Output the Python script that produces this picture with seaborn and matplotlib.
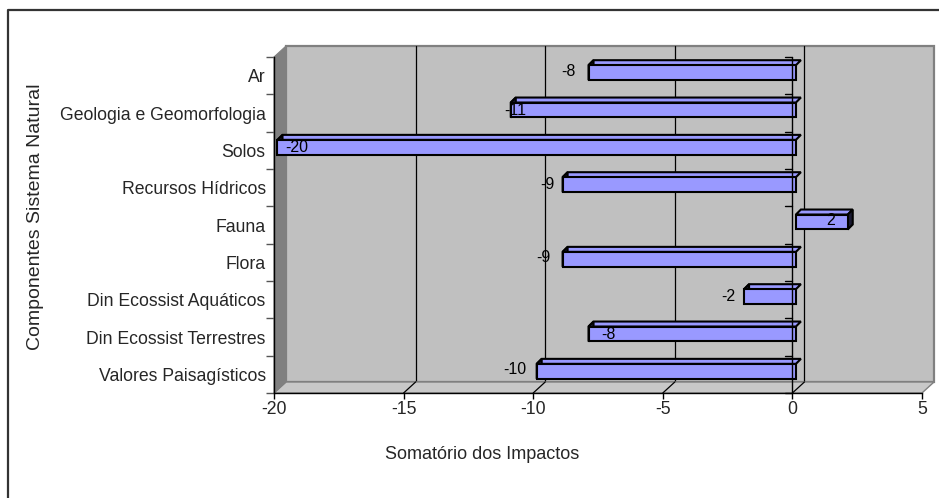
import matplotlib
matplotlib.use("Agg")
import matplotlib.pyplot as plt
import seaborn as sns
import pandas as pd
from matplotlib.patches import Polygon, Rectangle
from matplotlib.lines import Line2D

# Data
categories = ["Ar", "Geologia e Geomorfologia", "Solos", "Recursos Hídricos", "Fauna",
              "Flora", "Din Ecossist Aquáticos", "Din Ecossist Terrestres", "Valores Paisagísticos"]
values = [-8, -11, -20, -9, 2, -9, -2, -8, -10]
x_ticks = [-20, -15, -10, -5, 0, 5]
x_title = "Somatório dos Impactos"
y_title = "Componentes Sistema Natural"

# Label nudges in pixels relative to the bar end
label_dx = [-20, 4, 19, -15, -17, -19, -16, 20, -22]
label_dy = [1, 0, 0, 0, 2, 2, 0, 0, 2]

sns.set_theme(style="white")
plt.rcParams["font.family"] = ["Liberation Sans", "DejaVu Sans"]

W, H, DPI = 939, 498, 100
fig = plt.figure(figsize=(W / DPI, H / DPI), dpi=DPI, facecolor="white")

# front plane of the 3D box in pixels
fx0, fx1, fy0, fy1 = 274, 922, 57, 393
ax = fig.add_axes([fx0 / W, 1 - fy1 / H, (fx1 - fx0) / W, (fy1 - fy0) / H])
ax.set_facecolor("none")

df = pd.DataFrame({"cat": categories, "val": values})
sns.barplot(data=df, x="val", y="cat", orient="h", color="#9999FF", width=0.4,
            edgecolor="black", linewidth=1.5, saturation=1, ax=ax, zorder=5)

xmin, xmax = -20, 5
ax.set_xlim(xmin, xmax)
n = len(categories)
ax.set_ylim(n - 0.5, -0.5)

pxx = (fx1 - fx0) / (xmax - xmin)      # pixels per x unit
pxy = (fy1 - fy0) / n                  # pixels per category


def off(px_x, px_y):
    """pixel offset (right, up) -> data offset"""
    return px_x / pxx, -px_y / pxy


# depth of the box
DX, DY = off(12, 11)
top, bot = -0.5, n - 0.5

# back wall
ax.add_patch(Rectangle((xmin + DX, top + DY), xmax - xmin, bot - top, facecolor="#C0C0C0",
                       edgecolor="#808080", linewidth=1.6, zorder=0, clip_on=False))
# floor
ax.add_patch(Polygon([(xmin, bot), (xmax, bot), (xmax + DX, bot + DY), (xmin + DX, bot + DY)],
                     closed=True, facecolor="#C8C8C8", edgecolor="#808080", linewidth=1.0,
                     zorder=1, clip_on=False))
# left wall
ax.add_patch(Polygon([(xmin, top), (xmin, bot), (xmin + DX, bot + DY), (xmin + DX, top + DY)],
                     closed=True, facecolor="#808080", edgecolor="#808080", linewidth=0.8,
                     zorder=1, clip_on=False))
# gridlines on back wall and floor
for t in x_ticks[1:-1]:
    ax.plot([t + DX, t + DX], [top + DY, bot + DY], color="black", lw=0.9, zorder=0.5,
            clip_on=False)
    ax.plot([t, t + DX], [bot, bot + DY], color="black", lw=0.9, zorder=1.5, clip_on=False)

# shift the bar fronts into the middle of the box depth and add top / end faces
fdx, fdy = off(3.5, 3)
bdx, bdy = off(8.5, 8)
bars = [p for p in ax.patches if isinstance(p, Rectangle) and p.get_zorder() == 5]
for p in bars:
    x0, y0 = p.get_x(), p.get_y()
    w, h = p.get_width(), p.get_height()
    p.set_xy((x0 + fdx, y0 + fdy))
    xl, xr = x0 + fdx, x0 + w + fdx
    yt, yb = y0 + fdy, y0 + h + fdy
    ddx, ddy = bdx - fdx, bdy - fdy
    ax.add_patch(Polygon([(xl, yt), (xr, yt), (xr + ddx, yt + ddy), (xl + ddx, yt + ddy)],
                         closed=True, facecolor="#9999FF", edgecolor="black", linewidth=1.5,
                         zorder=4.5, clip_on=False))
    ax.add_patch(Polygon([(xr, yt), (xr, yb), (xr + ddx, yb + ddy), (xr + ddx, yt + ddy)],
                         closed=True, facecolor="#1A1A33", edgecolor="black", linewidth=1.5,
                         zorder=4.5, clip_on=False))

# category axis crossing at zero
ax.plot([0, 0], [top, bot], color="black", lw=1.0, zorder=6, clip_on=False)
tlen, _ = off(7, 0)
for b in range(n + 1):
    ax.plot([-tlen, 0], [b - 0.5, b - 0.5], color="black", lw=1.0, zorder=6, clip_on=False)

# value labels
for i, v in enumerate(values):
    ax.annotate(f"{v}", xy=(v, i), xytext=(3.5 + label_dx[i], 3 + label_dy[i]),
                textcoords="offset pixels", ha="center", va="center", fontsize=11.5,
                color="black", zorder=7)

# axes styling
for s in ["top", "right"]:
    ax.spines[s].set_visible(False)
for s in ["left", "bottom"]:
    ax.spines[s].set_color("black")
    ax.spines[s].set_linewidth(1.0)
    ax.spines[s].set_zorder(6)

ax.set_xticks(x_ticks)
ax.set_xticklabels([str(t) for t in x_ticks], fontsize=12.7)
ax.tick_params(axis="x", direction="out", length=4, width=1, color="black", pad=2,
               bottom=True)
ax.set_yticks(range(n))
ax.set_yticklabels(categories, fontsize=12.7)
ax.tick_params(axis="y", which="major", length=0, pad=6)
ax.set_yticks([b - 0.5 for b in range(n + 1)], minor=True)
ax.tick_params(axis="y", which="minor", left=True, length=6, width=1, color="#555555",
               direction="out")
ax.grid(False)

ax.set_xlabel(x_title, fontsize=13)
ax.set_ylabel(y_title, fontsize=14)
ax.xaxis.set_label_coords((482 - fx0) / (fx1 - fx0), (fy1 - 454) / (fy1 - fy0))
ax.xaxis.label.set_va("center")
ax.yaxis.set_label_coords((36 - fx0) / (fx1 - fx0), (fy1 - 217) / (fy1 - fy0))
ax.yaxis.label.set_va("center")

# outer chart frame
fig.add_artist(Line2D([8 / W, 8 / W, 1.0], [0.0, 1 - 10 / H, 1 - 10 / H],
                      color="#333333", lw=1.6, transform=fig.transFigure))

fig.savefig("out.png", dpi=DPI, facecolor="white")
